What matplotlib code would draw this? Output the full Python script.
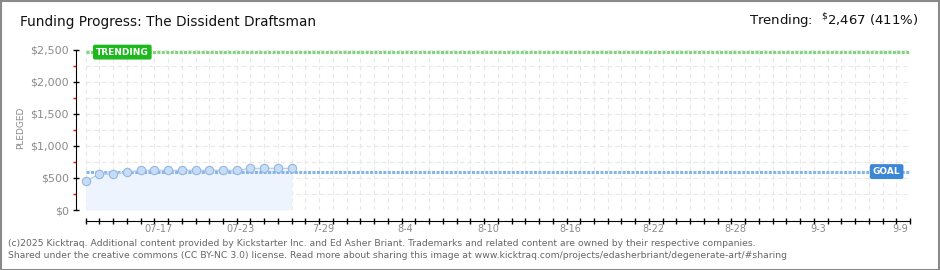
import matplotlib
matplotlib.use("Agg")
import matplotlib.pyplot as plt
import matplotlib.transforms as mtransforms
from matplotlib.ticker import MultipleLocator, FuncFormatter

# data
days = list(range(16))
pledged = [450, 560, 560, 590, 620, 620, 620, 620, 620, 620, 620, 620, 650, 650, 650, 650]
goal = 600
trending = 2467
tick_days = [5, 11, 17, 23, 29, 35, 41, 47, 53, 59]
tick_labels = ["07-17", "07-23", "7-29", "8-4", "8-10", "8-16", "8-22", "8-28", "9-3", "9-9"]
n_days = 60

W, H = 940, 270
fig = plt.figure(figsize=(W / 100, H / 100), dpi=100)
fig.patch.set_facecolor("white")

# axes in pixel coordinates: left=76, right=910, y0 at 210, top at 45
ax = fig.add_axes([76 / W, (H - 210) / H, (910 - 76) / W, (210 - 45) / H])
ax.set_xlim(-0.7, n_days)
ax.set_ylim(0, 2578)
ax.patch.set_alpha(0)

# grid
for d in range(0, n_days + 1):
    ax.plot([d, d], [0, 2500], color="#e8e8e8", lw=0.8, ls=(0, (4, 3)), zorder=0)
for v in range(0, 2501, 250):
    ax.plot([0, n_days], [v, v], color="#e8e8e8", lw=0.8, ls=(0, (4, 3)), zorder=0)

# area + line + points
ax.fill_between(days, 0, pledged, color="#edf4fd", zorder=1, lw=0)
ax.plot(days, pledged, color="#b5d1f2", lw=1, zorder=3)
ax.plot(days, pledged, ls="none", marker="o", ms=6, mfc="#c7ddf7",
        mec="#95b6de", mew=0.8, zorder=4)

# goal and trending lines
ax.plot([0, n_days], [goal, goal], color="#86b5e8", lw=2.2, ls=(0, (1, 0.45)), zorder=2)
ax.plot([0, n_days], [trending, trending], color="#80d480", lw=2.2, ls=(0, (1, 0.45)), zorder=2)

ax.text(0.75, trending, "TRENDING", color="white", fontsize=6.5, fontweight="bold",
        ha="left", va="center", zorder=6,
        bbox=dict(boxstyle="round,pad=0.25,rounding_size=0.15", fc="#1db81d", ec="#1db81d"))
ax.text(58.3, goal, "GOAL", color="white", fontsize=6.5, fontweight="bold",
        ha="center", va="center", zorder=6,
        bbox=dict(boxstyle="round,pad=0.25,rounding_size=0.15", fc="#3b87d6", ec="#3b87d6"))

# spines
for s in ("top", "right"):
    ax.spines[s].set_visible(False)
ax.spines["left"].set_bounds(0, 2500)
ax.spines["left"].set_color("black")
ax.spines["bottom"].set_position(("outward", 8))
ax.spines["bottom"].set_bounds(0, n_days)

# y ticks
ax.yaxis.set_major_locator(MultipleLocator(500))
ax.yaxis.set_minor_locator(MultipleLocator(250))
ax.yaxis.set_major_formatter(FuncFormatter(lambda v, p: "${:,.0f}".format(v)))
ax.tick_params(axis="y", which="major", direction="inout", length=4, width=1,
               labelsize=8, labelcolor="#8a8a8a", pad=3)
ax.tick_params(axis="y", which="minor", direction="out", length=2.5, width=1, color="red")
ax.set_ylabel("PLEDGED", fontsize=6.5, color="#8a8a8a", labelpad=4)

# x ticks: every day, labels at the given days
ax.set_xticks(range(0, n_days + 1))
ax.set_xticklabels([tick_labels[tick_days.index(d)] if d in tick_days else "" for d in range(0, n_days + 1)])
ax.tick_params(axis="x", direction="inout", length=4, width=1,
               labelsize=7, labelcolor="#8a8a8a", pad=0)
shift = mtransforms.ScaledTranslation(4 / 100, 0, fig.dpi_scale_trans)
for lab in ax.get_xticklabels():
    lab.set_transform(lab.get_transform() + shift)

# header text
fig.text(20 / W, 1 - 22 / H, "Funding Progress: The Dissident Draftsman", fontsize=9.8,
         ha="left", va="center", color="#111111")
fig.text(918 / W, 1 - 21 / H, r"Trending:  $^{\$}$2,467 (411%)", fontsize=9.5,
         ha="right", va="center", color="#111111")

# footer
fig.text(8 / W, 1 - 243 / H,
         "(c)2025 Kicktraq. Additional content provided by Kickstarter Inc. and Ed Asher Briant. "
         "Trademarks and related content are owned by their respective companies.",
         fontsize=6.65, color="#666666", ha="left", va="center")
fig.text(8 / W, 1 - 256 / H,
         "Shared under the creative commons (CC BY-NC 3.0) license. Read more about sharing this image at "
         "www.kicktraq.com/projects/edasherbriant/degenerate-art/#sharing",
         fontsize=6.65, color="#666666", ha="left", va="center")

# outer frame
fig.add_artist(plt.Rectangle((0.5 / W, 0.5 / H), 1 - 1.5 / W, 1 - 1.5 / H, transform=fig.transFigure,
                             fill=False, ec="#8a8a8a", lw=1.5))

fig.savefig("out.png", dpi=100)
